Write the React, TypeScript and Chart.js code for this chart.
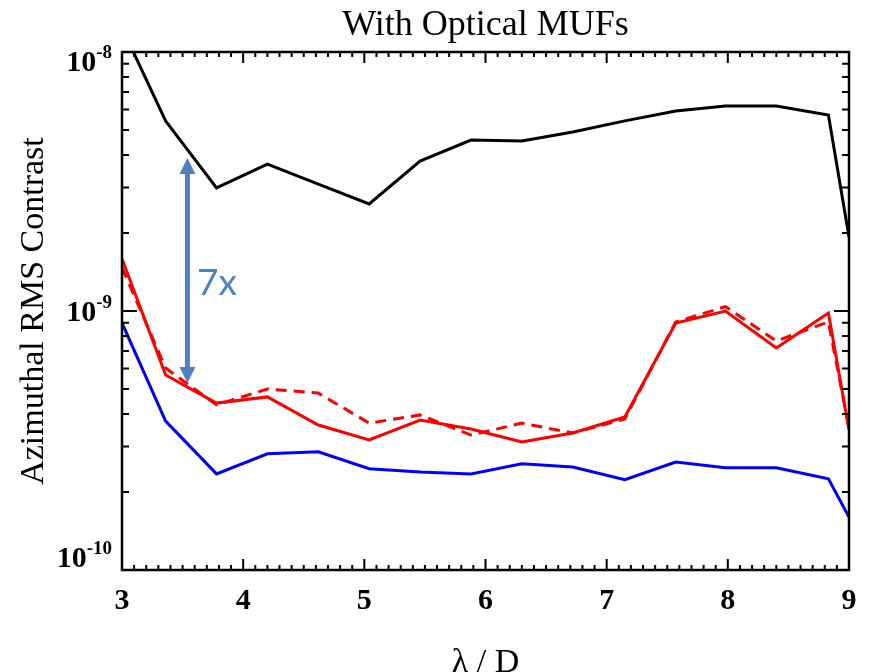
import React, { useEffect, useRef } from 'react';
import { Chart, registerables } from 'chart.js';

Chart.register(...registerables);

// λ/D sample positions
const xValues = [3.0, 3.36, 3.78, 4.2, 4.62, 5.04, 5.46, 5.88, 6.3, 6.72, 7.15, 7.57, 7.98, 8.4, 8.83, 9.0];
// Azimuthal RMS contrast series
const blackSeries = [1.24e-8, 5.42e-9, 2.99e-9, 3.69e-9, 3.09e-9, 2.59e-9, 3.79e-9, 4.57e-9, 4.53e-9, 4.91e-9, 5.42e-9, 5.92e-9, 6.19e-9, 6.19e-9, 5.71e-9, 1.93e-9];
const redSolidSeries = [1.59e-9, 5.66e-10, 4.41e-10, 4.66e-10, 3.63e-10, 3.18e-10, 3.79e-10, 3.5e-10, 3.12e-10, 3.38e-10, 3.9e-10, 8.99e-10, 1.0e-9, 7.2e-10, 9.82e-10, 3.47e-10];
const redDashedSeries = [1.47e-9, 6.02e-10, 4.34e-10, 5.0e-10, 4.82e-10, 3.69e-10, 3.97e-10, 3.32e-10, 3.69e-10, 3.38e-10, 3.83e-10, 9.07e-10, 1.04e-9, 7.66e-10, 9.07e-10, 3.53e-10];
const blueSeries = [8.99e-10, 3.76e-10, 2.35e-10, 2.81e-10, 2.86e-10, 2.46e-10, 2.39e-10, 2.35e-10, 2.57e-10, 2.5e-10, 2.23e-10, 2.61e-10, 2.48e-10, 2.48e-10, 2.25e-10, 1.6e-10];

// axes
const xRange = [3, 9];
const xMinorStep = 0.1;
const yRange = [1e-10, 1e-8];
const yMajorTicks = [1e-8, 1e-9, 1e-10];

// texts
const titleText = 'With Optical MUFs';
const xTitle = 'λ / D';
const yTitle = 'Azimuthal RMS Contrast';

// annotation: double arrow (x, yTop, yBottom) and label (x, y, text)
const arrowSpec = [3.54, 3.9e-9, 5.27e-10];
const arrowLabel = { x: 3.62, y: 1.15e-9, text: '7x' };
const arrowColor = '#4F81BD';

const SERIF = '"Liberation Serif", "Times New Roman", serif';

const decorPlugin = {
  id: 'decor',
  afterDraw(chart: any) {
    const { ctx, chartArea: a, scales } = chart;
    const xs = scales.x;
    const ys = scales.y;
    ctx.save();

    // arrow annotation
    const ax = xs.getPixelForValue(arrowSpec[0]);
    const ayTop = ys.getPixelForValue(arrowSpec[1]);
    const ayBot = ys.getPixelForValue(arrowSpec[2]);
    const headL = 16;
    const headW = 8;
    ctx.strokeStyle = arrowColor;
    ctx.fillStyle = arrowColor;
    ctx.lineWidth = 5;
    ctx.beginPath();
    ctx.moveTo(ax, ayTop + headL - 1);
    ctx.lineTo(ax, ayBot - headL + 1);
    ctx.stroke();
    ctx.beginPath();
    ctx.moveTo(ax, ayTop);
    ctx.lineTo(ax - headW, ayTop + headL);
    ctx.lineTo(ax + headW, ayTop + headL);
    ctx.closePath();
    ctx.fill();
    ctx.beginPath();
    ctx.moveTo(ax, ayBot);
    ctx.lineTo(ax - headW, ayBot - headL);
    ctx.lineTo(ax + headW, ayBot - headL);
    ctx.closePath();
    ctx.fill();
    ctx.font = '37px Lato, "Open Sans", sans-serif';
    ctx.textAlign = 'left';
    ctx.textBaseline = 'alphabetic';
    ctx.fillText(arrowLabel.text, xs.getPixelForValue(arrowLabel.x), ys.getPixelForValue(arrowLabel.y));

    // frame
    ctx.strokeStyle = '#000';
    ctx.fillStyle = '#000';
    ctx.lineWidth = 2.5;
    ctx.strokeRect(a.left, a.top, a.right - a.left, a.bottom - a.top);

    // x ticks (bottom and top, inward)
    ctx.lineWidth = 2;
    ctx.beginPath();
    const nx = Math.round((xRange[1] - xRange[0]) / xMinorStep);
    for (let i = 0; i <= nx; i++) {
      const v = xRange[0] + i * xMinorStep;
      const px = xs.getPixelForValue(v);
      const major = i % 10 === 0;
      const len = major ? 11 : 5;
      ctx.moveTo(px, a.bottom);
      ctx.lineTo(px, a.bottom - len);
      ctx.moveTo(px, a.top);
      ctx.lineTo(px, a.top + len);
    }
    // y ticks (left and right, inward)
    const yTickVals: number[] = [];
    for (let d = Math.log10(yRange[0]); d < Math.log10(yRange[1]); d++) {
      for (let k = 1; k <= 9; k++) yTickVals.push(k * Math.pow(10, d));
    }
    yTickVals.push(yRange[1]);
    yTickVals.forEach((v) => {
      const py = ys.getPixelForValue(v);
      const m = Math.log10(v);
      const major = Math.abs(m - Math.round(m)) < 1e-6;
      const len = major ? 15 : 7;
      ctx.moveTo(a.left, py);
      ctx.lineTo(a.left + len, py);
      ctx.moveTo(a.right, py);
      ctx.lineTo(a.right - len, py);
    });
    ctx.stroke();

    // y tick labels with superscripts
    ctx.textAlign = 'right';
    ctx.textBaseline = 'alphabetic';
    yMajorTicks.forEach((v) => {
      const py = ys.getPixelForValue(v);
      const base = Math.min(Math.max(py + 10, a.top + 19), a.bottom - 3);
      const exp = String(Math.round(Math.log10(v)));
      const rightX = a.left - 10;
      ctx.font = 'bold 19px ' + SERIF;
      const supW = ctx.measureText(exp).width;
      ctx.fillText(exp, rightX, base - 13);
      ctx.font = 'bold 30px ' + SERIF;
      ctx.fillText('10', rightX - supW, base);
    });

    // axis titles
    ctx.font = '34px ' + SERIF;
    ctx.textAlign = 'center';
    ctx.fillText(xTitle, (a.left + a.right) / 2, a.bottom + 102);
    ctx.translate(a.left - 79, (a.top + a.bottom) / 2);
    ctx.rotate(-Math.PI / 2);
    ctx.fillText(yTitle, 0, 0);
    ctx.restore();
  },
};

export default function App() {
  const canvasRef = useRef<HTMLCanvasElement | null>(null);

  useEffect(() => {
    const canvas = canvasRef.current;
    if (!canvas) return;
    const mk = (data: number[]) => xValues.map((x, i) => ({ x, y: data[i] }));
    const chart = new Chart(canvas, {
      type: 'line',
      data: {
        datasets: [
          { data: mk(blackSeries), borderColor: '#000000', borderWidth: 3, pointRadius: 0, tension: 0, fill: false },
          { data: mk(redSolidSeries), borderColor: '#FF0000', borderWidth: 3, pointRadius: 0, tension: 0, fill: false },
          { data: mk(redDashedSeries), borderColor: '#FF0000', borderWidth: 3, borderDash: [11, 7], pointRadius: 0, tension: 0, fill: false },
          { data: mk(blueSeries), borderColor: '#0000FF', borderWidth: 3, pointRadius: 0, tension: 0, fill: false },
        ],
      },
      options: {
        animation: false,
        responsive: false,
        maintainAspectRatio: false,
        devicePixelRatio: 1,
        layout: { padding: { left: 0, right: 24, top: 0, bottom: 0 } },
        plugins: {
          legend: { display: false },
          tooltip: { enabled: false },
          title: {
            display: true,
            text: titleText,
            fullSize: false,
            color: '#000',
            font: { family: SERIF, size: 36, weight: 'normal', lineHeight: 1 },
            padding: { top: 8, bottom: 8 },
          },
        },
        scales: {
          x: {
            type: 'linear',
            min: xRange[0],
            max: xRange[1],
            grid: { display: false, drawTicks: false },
            border: { display: false },
            ticks: {
              stepSize: 1,
              autoSkip: false,
              maxRotation: 0,
              padding: 13,
              color: '#000',
              font: { family: SERIF, size: 30, weight: 'bold' },
            },
            afterFit: (s: any) => { s.height = 102; },
          },
          y: {
            type: 'logarithmic',
            min: yRange[0],
            max: yRange[1],
            grid: { display: false, drawTicks: false },
            border: { display: false },
            ticks: { display: false },
            afterFit: (s: any) => { s.width = 122; },
          },
        },
      },
      plugins: [decorPlugin],
    } as any);
    return () => chart.destroy();
  }, []);

  return (
    <div style={{ position: 'fixed', left: 0, top: 0, width: 873, height: 672, background: '#fff' }}>
      <canvas ref={canvasRef} width={873} height={672} style={{ width: 873, height: 672, display: 'block' }} />
    </div>
  );
}
